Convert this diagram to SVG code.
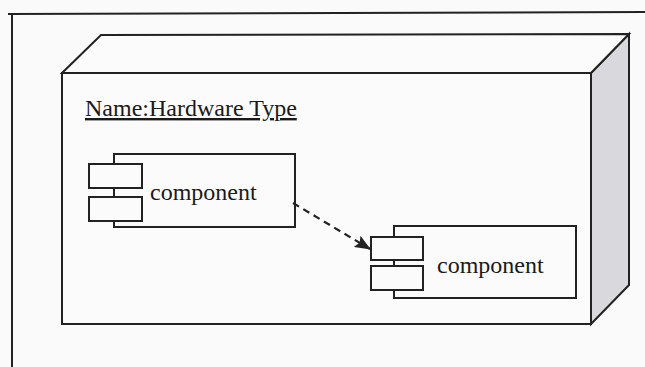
<svg xmlns="http://www.w3.org/2000/svg" width="645" height="367" viewBox="0 0 645 367">
  <style>
    .ln { fill: none; stroke: #222; stroke-width: 2; stroke-linejoin: miter; }
    .box { fill: #fbfbfb; stroke: #222; stroke-width: 2; }
    .txt { font-family: "Liberation Serif", "Times New Roman", serif; fill: #1a1a1a; }
    .dash { fill: none; stroke: #222; stroke-width: 2.2; stroke-dasharray: 7 5; }
  </style>
  <defs>
    <marker id="arrow" viewBox="0 0 16 13" refX="15" refY="6.5" markerWidth="16" markerHeight="13" markerUnits="userSpaceOnUse" orient="auto">
      <path d="M0,0 L16,6.5 L0,13 L3,6.5 Z" fill="#222"/>
    </marker>
  </defs>
  <rect x="0" y="0" width="645" height="367" fill="#fafafa"/>

  <g id="frame">
    <path class="ln" d="M8,14 L645,12"/>
    <path class="ln" d="M12,14 L12,367"/>
  </g>

  <g id="node-hardware">
    <polygon points="591,73 629,34 629,285 591,324" fill="#d8d8dd" stroke="#222" stroke-width="2"/>
    <polygon points="62,73 101,35 629,34 591,73" fill="#fbfbfb" stroke="#222" stroke-width="2"/>
    <rect class="box" x="62" y="73" width="529" height="251"/>
    <text class="txt" x="85" y="116" font-size="24" text-decoration="underline">Name:Hardware Type</text>
  </g>

  <g id="component-1">
    <rect class="box" x="114" y="154" width="181" height="73"/>
    <rect class="box" x="89" y="164" width="53" height="24"/>
    <rect class="box" x="89" y="197" width="53" height="24"/>
    <text class="txt" x="150" y="200" font-size="24">component</text>
  </g>

  <g id="component-2">
    <rect class="box" x="394" y="226" width="182" height="72"/>
    <rect class="box" x="371" y="237" width="52" height="23"/>
    <rect class="box" x="371" y="266" width="52" height="24"/>
    <text class="txt" x="437" y="273" font-size="24">component</text>
  </g>

  <g id="connectors">
    <path class="dash" d="M293,203 L370,249" marker-end="url(#arrow)"/>
  </g>
</svg>
